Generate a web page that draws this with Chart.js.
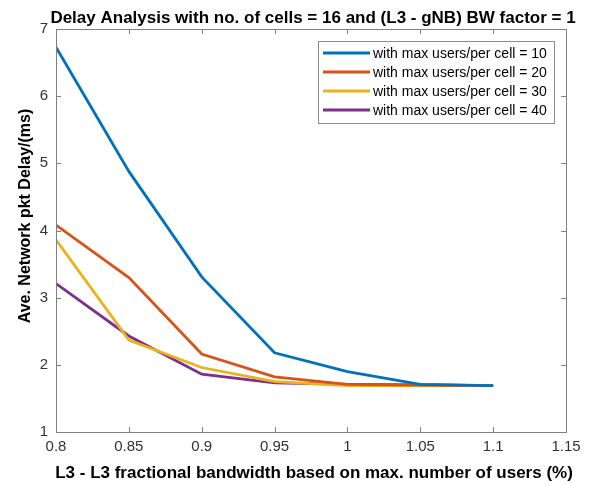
<!DOCTYPE html>
<html>
<head>
<meta charset="utf-8">
<script src="https://cdn.jsdelivr.net/npm/chart.js@4/dist/chart.umd.min.js"></script>
<style>
  html, body { margin: 0; padding: 0; background: #fff; }
  #wrap { width: 592px; height: 485px; }
</style>
</head>
<body>
<div id="wrap"><canvas id="chart" width="592" height="485"></canvas></div>
<script>
  // x positions (fractional bandwidth)
  const bandwidth = [0.8, 0.85, 0.9, 0.95, 1.0, 1.05, 1.1];

  // delay (ms) per max users per cell
  const users10 = [6.73, 4.88, 3.31, 2.18, 1.90, 1.71, 1.69];
  const users20 = [4.08, 3.30, 2.16, 1.82, 1.71, 1.70, 1.69];
  const users30 = [3.86, 2.37, 1.96, 1.75, 1.69, 1.69, 1.69];
  const users40 = [3.21, 2.43, 1.86, 1.73, 1.71, 1.70, 1.69];

  const seriesLabels = [
    'with max users/per cell = 10',
    'with max users/per cell = 20',
    'with max users/per cell = 30',
    'with max users/per cell = 40'
  ];
  const seriesColors = ['#0072BD', '#D95319', '#EDB120', '#7E2F8E'];

  const xTicks = [0.8, 0.85, 0.9, 0.95, 1, 1.05, 1.1, 1.15];
  const yTicks = [1, 2, 3, 4, 5, 6, 7];

  const titleText = 'Delay Analysis with no. of cells = 16 and (L3 - gNB) BW factor = 1';
  const xLabel = 'L3 - L3 fractional bandwidth based on max. number of users (%)';
  const yLabel = 'Ave. Network pkt Delay/(ms)';

  const FONT = '"Liberation Sans", Arial, Helvetica, sans-serif';
  const AXIS = '#808080';
  const TEXT = '#333333';

  const toPoints = (vals) => vals.map((v, i) => ({ x: bandwidth[i], y: v }));
  const fmt = (v) => String(Number(v.toFixed(2)));

  // MATLAB style box with inward ticks, plus title and axis labels
  const boxPlugin = {
    id: 'box',
    afterDraw(chart) {
      const { ctx, chartArea: a, scales } = chart;
      ctx.save();
      ctx.strokeStyle = AXIS;
      ctx.lineWidth = 1;
      ctx.strokeRect(a.left + 0.5, a.top + 0.5, a.right - a.left, a.bottom - a.top);
      ctx.beginPath();
      const tl = 5;
      xTicks.forEach(t => {
        const px = Math.round(scales.x.getPixelForValue(t)) + 0.5;
        ctx.moveTo(px, a.bottom); ctx.lineTo(px, a.bottom - tl);
        ctx.moveTo(px, a.top); ctx.lineTo(px, a.top + tl);
      });
      yTicks.forEach(t => {
        const py = Math.round(scales.y.getPixelForValue(t)) + 0.5;
        ctx.moveTo(a.left, py); ctx.lineTo(a.left + tl, py);
        ctx.moveTo(a.right, py); ctx.lineTo(a.right - tl, py);
      });
      ctx.stroke();

      ctx.fillStyle = '#000';
      ctx.textAlign = 'center';
      ctx.textBaseline = 'alphabetic';
      ctx.font = 'bold 17px ' + FONT;
      ctx.fillText(titleText, 313, 23);
      ctx.fillText(xLabel, 314, 478);

      // y axis label (sits a bit above centre in the original)
      ctx.translate(26, 216);
      ctx.rotate(-Math.PI / 2);
      ctx.font = 'bold 16px ' + FONT;
      ctx.textBaseline = 'middle';
      ctx.fillText(yLabel, 0, 0);
      ctx.restore();
    }
  };

  // legend box in upper right of axes
  const legendPlugin = {
    id: 'boxLegend',
    afterDraw(chart) {
      const { ctx } = chart;
      const x0 = 318, y0 = 41, w = 236, h = 82;
      ctx.save();
      ctx.fillStyle = '#fff';
      ctx.fillRect(x0, y0, w, h);
      ctx.strokeStyle = '#8c8c8c';
      ctx.lineWidth = 1;
      ctx.strokeRect(x0 + 0.5, y0 + 0.5, w, h);
      ctx.font = '14px ' + FONT;
      ctx.textBaseline = 'middle';
      ctx.fillStyle = '#000';
      chart.data.datasets.forEach((ds, i) => {
        const y = y0 + 12 + i * 19;
        ctx.strokeStyle = ds.borderColor;
        ctx.lineWidth = 2.8;
        ctx.beginPath();
        ctx.moveTo(x0 + 5, y); ctx.lineTo(x0 + 52, y);
        ctx.stroke();
        ctx.fillText(ds.label, x0 + 55, y + 1);
      });
      ctx.restore();
    }
  };

  new Chart(document.getElementById('chart'), {
    type: 'line',
    data: {
      datasets: [users10, users20, users30, users40].map((vals, i) => ({
        label: seriesLabels[i],
        data: toPoints(vals),
        borderColor: seriesColors[i],
        backgroundColor: seriesColors[i],
        borderWidth: 2.8,
        pointRadius: 0,
        tension: 0,
        fill: false
      }))
    },
    options: {
      responsive: false,
      animation: false,
      layout: { padding: { left: 0, right: 26, top: 29, bottom: 0 } },
      plugins: {
        legend: { display: false },
        tooltip: { enabled: false },
        title: { display: false }
      },
      scales: {
        x: {
          type: 'linear',
          min: 0.8,
          max: 1.15,
          afterFit: (s) => { s.height = 53; },
          afterBuildTicks: (s) => { s.ticks = xTicks.map(v => ({ value: v })); },
          ticks: {
            color: TEXT,
            font: { family: FONT, size: 15 },
            padding: 6,
            maxRotation: 0,
            autoSkip: false,
            callback: (v) => fmt(v)
          },
          grid: { display: false, drawTicks: false },
          border: { display: false },
          title: { display: false }
        },
        y: {
          type: 'linear',
          min: 1,
          max: 7,
          afterFit: (s) => { s.width = 56; },
          afterBuildTicks: (s) => { s.ticks = yTicks.map(v => ({ value: v })); },
          ticks: {
            color: TEXT,
            font: { family: FONT, size: 15 },
            padding: 8,
            callback: (v) => fmt(v)
          },
          grid: { display: false, drawTicks: false },
          border: { display: false },
          title: { display: false }
        }
      }
    },
    plugins: [boxPlugin, legendPlugin]
  });
</script>
</body>
</html>
